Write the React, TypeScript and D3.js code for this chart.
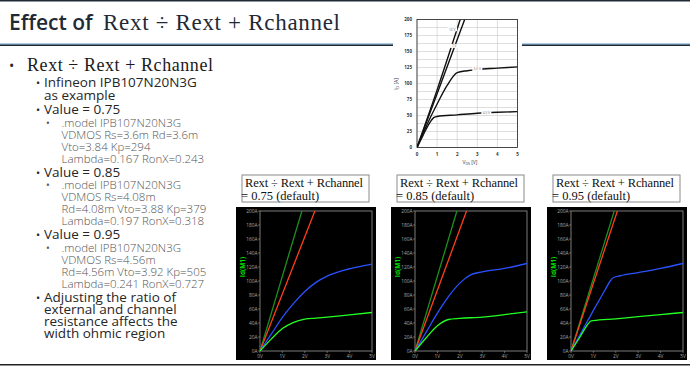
import React from 'react';
import * as d3 from 'd3';

const W = 690;
const H = 368;

// datasheet picture (top right): Id vs Vds, Infineon IPB107N20N3G
const dsXTicks = [0, 1, 2, 3, 4, 5];
const dsYTicks = [0, 25, 50, 75, 100, 125, 150, 175, 200];
const dsVgs10 = [[0, 0], [1, 90], [2.15, 200]];
const dsVgs7 = [[0, 0], [1, 84], [2.37, 200]];
const dsVgs55 = [[0, 0], [0.5, 36], [1, 68], [1.5, 97], [2, 117], [2.5, 120], [3, 122], [4, 124], [5, 126]];
const dsVgs45 = [[0, 0], [0.3, 19], [0.6, 37], [0.85, 47], [1, 48.5], [2, 51], [3, 53.5], [4, 55], [5, 56]];
const dsLabels = ['10 V', '7 V', '5.5 V', '4.5 V'];
const dsLabelAt = [[1.75, 184], [1.85, 158], [3.0, 122], [3.45, 54]];

// LTspice simulations, one per ratio
const ratios = ['0.75', '0.85', '0.95'];
const simXTicks = [0, 1, 2, 3, 4, 5];
const simYTicks = [0, 20, 40, 60, 80, 100, 120, 140, 160, 180, 200];
const darkGreenTop = [1.87, 1.87, 1.93]; // Vds where the trace reaches 200A
const redTop = [2.45, 2.3, 2.07];
const blueTrace = [
  [[0, 0], [0.5, 24], [1, 48], [1.5, 68], [2, 85], [2.5, 98], [3, 107], [3.5, 113], [4, 117.5], [4.5, 121], [5, 124]],
  [[0, 0], [0.5, 27], [1, 54], [1.5, 78], [2, 97], [2.5, 109], [3, 113], [4, 118], [5, 125]],
  [[0, 0], [0.5, 29], [1, 58], [1.5, 86], [1.75, 100], [1.9, 105], [2.2, 107.5], [3, 112], [4, 118], [5, 125]],
];
const greenTrace = [
  [[0, 0], [0.5, 17], [1, 32], [1.5, 41], [2, 45.5], [2.5, 47], [3, 48.5], [4, 51.5], [5, 55]],
  [[0, 0], [0.5, 19], [1, 36], [1.5, 45], [2, 46.5], [3, 48.5], [4, 52], [5, 56]],
  [[0, 0], [0.4, 20], [0.7, 36], [0.87, 42.5], [1, 43.5], [2, 46], [3, 49], [4, 52], [5, 55]],
];

const SANS = '"Open Sans", "Noto Sans", sans-serif';
const SERIF = '"Liberation Serif", serif';
const NAVY = '#1f2a36';

function Datasheet() {
  const x = d3.scaleLinear().domain([0, 5]).range([417, 517.5]);
  const y = d3.scaleLinear().domain([0, 200]).range([147.5, 19.5]);
  const line = d3.line<number[]>().x(d => x(d[0])).y(d => y(d[1])).curve(d3.curveMonotoneX);
  const minor = d3.range(0, 200.1, 12.5);
  const curves = [dsVgs10, dsVgs7, dsVgs55, dsVgs45];
  return (
    <g>
      <rect x={393} y={8} width={129} height={160} fill="#fff" />
      {minor.map(v => (
        <line key={'h' + v} x1={x(0)} x2={x(5)} y1={y(v)} y2={y(v)} stroke="#c8c8c8" strokeWidth={0.6} />
      ))}
      {dsXTicks.map(v => (
        <line key={'v' + v} x1={x(v)} x2={x(v)} y1={y(0)} y2={y(200)} stroke="#c8c8c8" strokeWidth={0.6} />
      ))}
      <rect x={x(0)} y={y(200)} width={x(5) - x(0)} height={y(0) - y(200)} fill="none" stroke="#222" strokeWidth={0.8} />
      <defs>
        <clipPath id="ds-clip">
          <rect x={x(0)} y={y(200)} width={x(5) - x(0)} height={y(0) - y(200)} />
        </clipPath>
      </defs>
      <g clipPath="url(#ds-clip)">
        {curves.map((c, i) => (
          <path key={i} d={line(c) || ''} fill="none" stroke="#111" strokeWidth={1.4} />
        ))}
      </g>
      {dsLabels.map((t, i) => (
        <g key={t}>
          <rect x={x(dsLabelAt[i][0]) - 5} y={y(dsLabelAt[i][1]) - 2.5} width={10} height={4} fill="#fff" />
          <text x={x(dsLabelAt[i][0])} y={y(dsLabelAt[i][1]) + 1} fontSize={3.2} textAnchor="middle" fill="#666" fontFamily={SANS}>{t}</text>
        </g>
      ))}
      {dsYTicks.map(v => (
        <text key={v} x={x(0) - 5} y={y(v) + 1.6} fontSize={4.5} fontWeight="bold" textAnchor="end" fill="#333" fontFamily={SANS}>{v}</text>
      ))}
      {dsXTicks.map(v => (
        <text key={v} x={x(v)} y={156} fontSize={4.5} fontWeight="bold" textAnchor="middle" fill="#333" fontFamily={SANS}>{v}</text>
      ))}
      <text x={470} y={164} fontSize={5} textAnchor="middle" fill="#333" fontFamily={SANS}>
        V<tspan fontSize={3.5} dy={1}>DS</tspan><tspan dy={-1}> [V]</tspan>
      </text>
      <text transform="translate(398,84) rotate(-90)" fontSize={5} textAnchor="middle" fill="#333" fontFamily={SANS}>
        I<tspan fontSize={3.5} dy={1}>D</tspan><tspan dy={-1}> [A]</tspan>
      </text>
    </g>
  );
}

function SimPanel({ idx, left }: { idx: number; left: number }) {
  const top = 207;
  const pw = 140;
  const ph = 153;
  const x = d3.scaleLinear().domain([0, 5]).range([left + 24, left + pw - 4]);
  const y = d3.scaleLinear().domain([0, 200]).range([top + ph - 9, top + 4]);
  const line = d3.line<number[]>().x(d => x(d[0])).y(d => y(d[1])).curve(d3.curveMonotoneX);
  const clip = 'sim-clip-' + idx;
  const traces = [
    { d: [[0, 0], [darkGreenTop[idx], 200]], c: '#1d8f1d' },
    { d: [[0, 0], [redTop[idx], 200]], c: '#ff3f1c' },
    { d: blueTrace[idx], c: '#2a52ff' },
    { d: greenTrace[idx], c: '#22ff22' },
  ];
  return (
    <g>
      <rect x={left + 6} y={175} width={127} height={27} fill="#fff" stroke="#8a8a8a" strokeWidth={1} />
      <text x={left + 9} y={187} fontSize={12.5} fontFamily={SERIF} fill="#111" textLength={118}>Rext ÷ Rext + Rchannel</text>
      <text x={left + 5} y={199.5} fontSize={12.5} fontFamily={SERIF} fill="#111">= {ratios[idx]} (default)</text>
      <rect x={left} y={top} width={pw} height={ph} fill="#000" />
      <defs>
        <clipPath id={clip}>
          <rect x={x(0)} y={y(200)} width={x(5) - x(0)} height={y(0) - y(200)} />
        </clipPath>
      </defs>
      <rect x={x(0)} y={y(200)} width={x(5) - x(0)} height={y(0) - y(200)} fill="none" stroke="#9a9a9a" strokeWidth={0.8} />
      {simYTicks.map(v => (
        <g key={v}>
          <line x1={x(0) - 2} x2={x(0)} y1={y(v)} y2={y(v)} stroke="#9a9a9a" strokeWidth={0.6} />
          <text x={x(0) - 2.5} y={y(v) + 1.7} fontSize={4.8} textAnchor="end" fill="#a8a8a8" fontFamily={SANS}>{v}A</text>
        </g>
      ))}
      {simXTicks.map(v => (
        <g key={v}>
          <line x1={x(v)} x2={x(v)} y1={y(0)} y2={y(0) + 2} stroke="#9a9a9a" strokeWidth={0.6} />
          <text x={x(v)} y={y(0) + 6.5} fontSize={4.8} textAnchor="middle" fill="#a8a8a8" fontFamily={SANS}>{v}V</text>
        </g>
      ))}
      <text transform={`translate(${left + 9},${top + 60}) rotate(-90)`} fontSize={6.5} fontWeight="bold" textAnchor="middle" fill="#00e000" fontFamily={SANS}>Id(M1)</text>
      <g clipPath={`url(#${clip})`}>
        {traces.map((t, i) => (
          <path key={i} d={line(t.d) || ''} fill="none" stroke={t.c} strokeWidth={1.3} />
        ))}
      </g>
    </g>
  );
}

function Bullets() {
  const l2 = { fontSize: 13.5, fontFamily: SANS, fill: '#262626' };
  const l3 = { fontSize: 11.5, fontFamily: SANS, fill: '#555', fontWeight: 300 };
  const dot2 = (yy: number) => <text x={36} y={yy} fontSize={11} fill="#262626" fontFamily={SANS}>•</text>;
  const dot3 = (yy: number) => <text x={46} y={yy} fontSize={10} fill="#555" fontFamily={SANS}>•</text>;
  const block = (yy: number, lines: string[]) => (
    <g>
      {dot3(yy)}
      {lines.map((t, i) => (
        <text key={i} x={61.5} y={yy + i * 12} {...l3}>{t}</text>
      ))}
    </g>
  );
  return (
    <g>
      <text x={9} y={71} fontSize={14} fill="#262626" fontFamily={SANS}>•</text>
      <text x={27} y={71} fontSize={18} fontFamily={SERIF} fill="#1a1a1a" textLength={186}>Rext ÷ Rext + Rchannel</text>

      {dot2(86.5)}
      <text x={44} y={86.5} {...l2}>Infineon IPB107N20N3G</text>
      <text x={44} y={99.5} {...l2}>as example</text>
      {dot2(113.5)}
      <text x={44} y={113.5} {...l2}>Value = 0.75</text>
      {block(126.5, ['.model IPB107N20N3G', 'VDMOS Rs=3.6m Rd=3.6m', 'Vto=3.84 Kp=294', 'Lambda=0.167 RonX=0.243'])}

      {dot2(176.5)}
      <text x={44} y={176.5} {...l2}>Value = 0.85</text>
      {block(189, ['.model IPB107N20N3G', 'VDMOS Rs=4.08m', 'Rd=4.08m Vto=3.88 Kp=379', 'Lambda=0.197 RonX=0.318'])}

      {dot2(239)}
      <text x={44} y={239} {...l2}>Value = 0.95</text>
      {block(252, ['.model IPB107N20N3G', 'VDMOS Rs=4.56m', 'Rd=4.56m Vto=3.92 Kp=505', 'Lambda=0.241 RonX=0.727'])}

      {dot2(301.5)}
      {['Adjusting the ratio of', 'external and channel', 'resistance affects the', 'width ohmic region'].map((t, i) => (
        <text key={i} x={44} y={301.5 + i * 12} {...l2}>{t}</text>
      ))}
    </g>
  );
}

export default function App() {
  React.useEffect(() => {
    document.body.style.margin = '0';
  }, []);
  const panelLeft = [236, 391, 547];
  return (
    <svg width={W} height={H} viewBox={`0 0 ${W} ${H}`} style={{ position: 'absolute', left: 0, top: 0, background: '#fff' }}>
      <rect x={0} y={0} width={W} height={H} fill="#fff" />
      <rect x={0} y={0} width={W} height={1.5} fill={NAVY} />
      <text x={9} y={30} fontSize={21} fontWeight={600} fontFamily={SANS} fill={NAVY}>Effect of</text>
      <text x={103} y={30} fontSize={23} fontFamily={SERIF} fill={NAVY} textLength={237}>Rext ÷ Rext + Rchannel</text>
      <rect x={0} y={43.5} width={W} height={1} fill="#5b9bd5" />
      <rect x={0} y={44.5} width={W} height={1.5} fill={NAVY} />
      <Datasheet />
      <Bullets />
      {ratios.map((r, i) => (
        <SimPanel key={r} idx={i} left={panelLeft[i]} />
      ))}
      <rect x={0} y={364} width={W} height={1.5} fill="#222" />
    </svg>
  );
}
